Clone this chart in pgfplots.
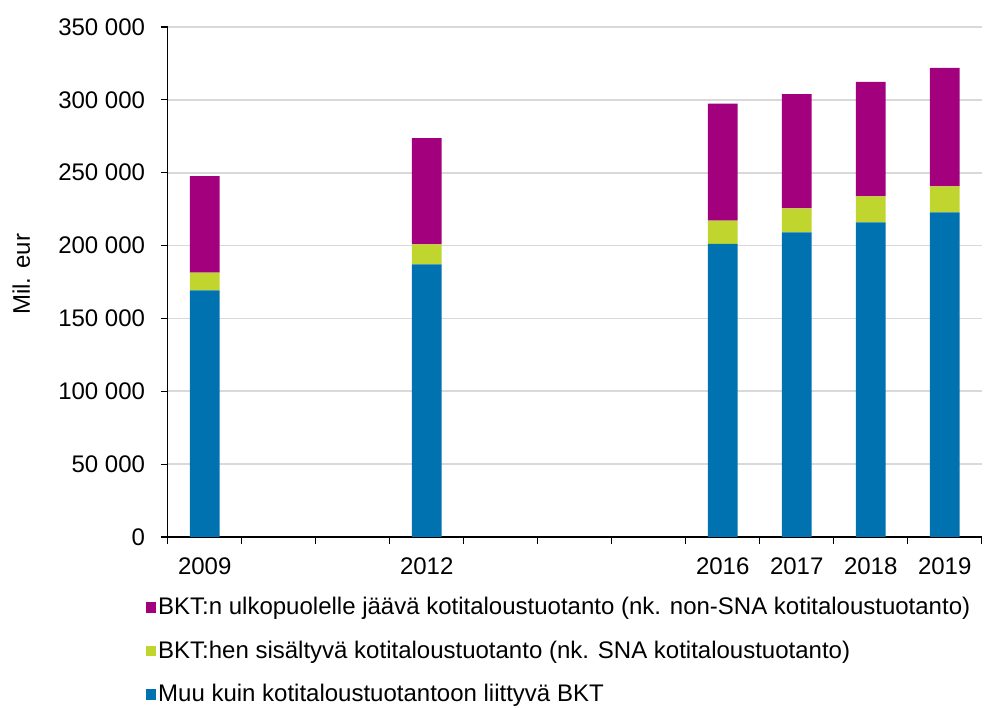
\documentclass[border=0pt]{standalone}
\usepackage{pgfplots}
\pgfplotsset{compat=1.18}
\usepackage{fontspec}
\setmainfont{Liberation Sans}
\definecolor{cblue}{RGB}{0,114,176}
\definecolor{cgreen}{RGB}{192,214,46}
\definecolor{cpurple}{RGB}{163,0,126}
\begin{document}
\begin{tikzpicture}
\useasboundingbox (0,0) rectangle (492bp,354.5bp);
\begin{axis}[
  at={(83.85bp,86bp)}, anchor=south west,
  scale only axis, width=407bp, height=255bp,
  ybar stacked, bar width=0.4,
  xmin=-0.5, xmax=10.5, ymin=0, ymax=350000,
  axis x line*=bottom, axis y line*=left,
  axis line style={black, line width=0.6bp, -},
  xtick={0,3,7,8,9,10},
  xticklabels={2009,2012,2016,2017,2018,2019},
  minor xtick={-0.5,0.5,...,10.5},
  ytick={0,50000,100000,150000,200000,250000,300000,350000},
  yticklabels={0,50 000,100 000,150 000,200 000,250 000,300 000,350 000},
  tick align=outside,
  major x tick style={draw=none},
  minor tick length=3.5bp,
  major tick length=3.5bp,
  tick style={black, line width=0.6bp},
  ymajorgrids, grid style={color=black!15, line width=0.8bp},
  scaled y ticks=false,
  tick label style={font=\fontsize{12bp}{14bp}\selectfont, text=black},
  yticklabel style={xshift=-4.3bp},
  xticklabel style={yshift=-3.5bp},
  ylabel={Mil. eur},
  ylabel style={font=\fontsize{12bp}{14bp}\selectfont, at={(rel axis cs:-0.18,0.515)}, anchor=center},
  reverse legend,
  legend style={at={(rel axis cs:-0.035,-0.102)}, anchor=north west, draw=none, fill=none,
    font=\fontsize{12bp}{14bp}\selectfont, row sep=7.5bp, nodes={inner xsep=1bp}},
  legend cell align=left,
  legend image code/.code={\fill[#1] (0bp,-2.65bp) rectangle (5.3bp,2.65bp);},
]
\addplot[fill=cblue, draw=none] coordinates {(0,169300) (3,187100) (7,201100) (8,209100) (9,216000) (10,222800)};
\addplot[fill=cgreen, draw=none] coordinates {(0,12100) (3,13800) (7,16000) (8,16500) (9,17800) (10,17900)};
\addplot[fill=cpurple, draw=none] coordinates {(0,66300) (3,72900) (7,80300) (8,78400) (9,78500) (10,81200)};
\legend{Muu kuin kotitaloustuotantoon liittyvä BKT,
BKT:hen sisältyvä kotitaloustuotanto (nk. SNA kotitaloustuotanto),
BKT:n ulkopuolelle jäävä kotitaloustuotanto (nk. non-SNA kotitaloustuotanto)}
\end{axis}
\end{tikzpicture}
\end{document}
